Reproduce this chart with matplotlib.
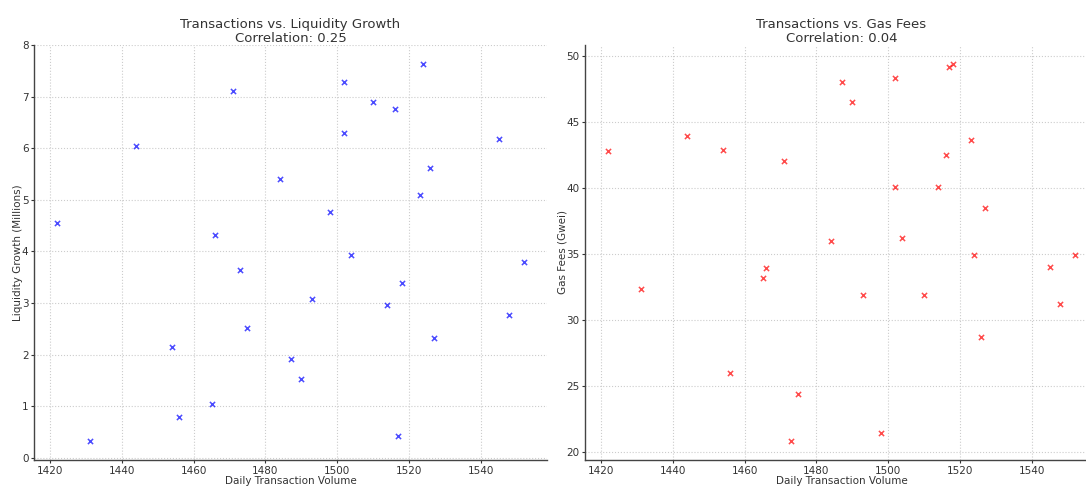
import matplotlib.pyplot as plt

volume = [1422, 1431, 1444, 1454, 1456, 1465, 1466, 1471, 1473, 1475,
          1484, 1487, 1490, 1493, 1498, 1502, 1502, 1504, 1510, 1514,
          1516, 1517, 1518, 1523, 1524, 1526, 1527, 1545, 1548, 1552]
liquidity = [4.56, 0.32, 6.04, 2.14, 0.78, 1.04, 4.31, 7.12, 3.65, 2.52,
             5.41, 1.91, 1.53, 3.07, 4.76, 7.29, 6.30, 3.94, 6.90, 2.97,
             6.77, 0.42, 3.39, 5.10, 7.64, 5.62, 2.32, 6.18, 2.77, 3.79]
gas = [42.8, 32.3, 43.9, 42.9, 26.0, 33.2, 33.9, 42.0, 20.8, 24.4,
       36.0, 48.0, 46.5, 31.9, 21.4, 40.1, 48.3, 36.2, 31.9, 40.1,
       42.5, 49.2, 49.4, 43.6, 34.9, 28.7, 38.5, 34.0, 31.2, 34.9]

plt.rcParams['font.family'] = ['DejaVu Sans']
plt.rcParams['text.color'] = '#333333'
plt.rcParams['axes.labelcolor'] = '#333333'
plt.rcParams['xtick.color'] = '#333333'
plt.rcParams['ytick.color'] = '#333333'

fig = plt.figure(figsize=(10.86, 4.86), dpi=100)
ax1 = fig.add_axes([34/1086, 26/486, 513/1086, 415/486])
ax2 = fig.add_axes([585/1086, 26/486, 513/1086, 415/486])

def style(ax):
    ax.grid(True, linestyle=':', color='#cccccc', linewidth=0.8)
    ax.set_axisbelow(True)
    for s in ['top', 'right']:
        ax.spines[s].set_visible(False)
    for s in ['left', 'bottom']:
        ax.spines[s].set_color('#444444')
        ax.spines[s].set_linewidth(1.0)
    ax.tick_params(labelsize=7.5, length=2.5, width=0.8, pad=1.5)

ax1.scatter(volume, liquidity, marker='x', color='blue', alpha=0.7, s=14, linewidths=1.1)
ax1.set_title("Transactions vs. Liquidity Growth\nCorrelation: 0.25", fontsize=9.5, linespacing=1.1, pad=2)
ax1.set_xlabel("Daily Transaction Volume", fontsize=7.5, labelpad=0)
ax1.set_ylabel("Liquidity Growth (Millions)", fontsize=7.5, labelpad=-1)
style(ax1)

ax2.scatter(volume, gas, marker='x', color='red', alpha=0.7, s=14, linewidths=1.1)
ax2.set_title("Transactions vs. Gas Fees\nCorrelation: 0.04", fontsize=9.5, linespacing=1.1, pad=2)
ax2.set_xlabel("Daily Transaction Volume", fontsize=7.5, labelpad=0)
ax2.set_ylabel("Gas Fees (Gwei)", fontsize=7.5, labelpad=-1)
style(ax2)

fig.savefig("out.png", dpi=100)
